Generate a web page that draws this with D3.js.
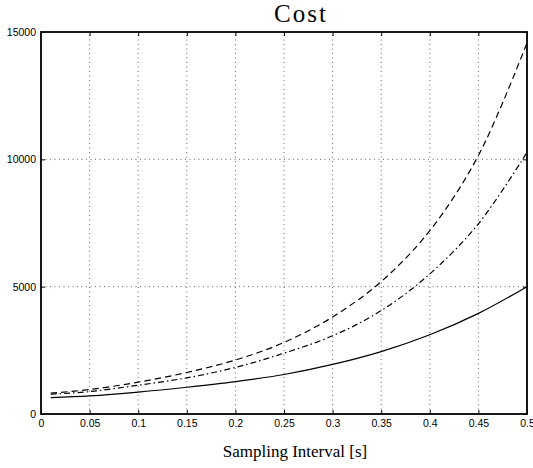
<!DOCTYPE html>
<html>
<head>
<meta charset="utf-8">
<script src="https://cdn.jsdelivr.net/npm/d3@7/dist/d3.min.js"></script>
<style>
  html, body { margin: 0; padding: 0; background: #fff; }
  svg { display: block; }
</style>
</head>
<body>
<svg id="chart" width="533" height="468"></svg>
<script>
// ---- data ----
const intervals = [0.01, 0.05, 0.1, 0.15, 0.2, 0.25, 0.3, 0.35, 0.4, 0.45, 0.5];
const costSolid   = [640, 710, 860, 1050, 1270, 1550, 1946, 2450, 3110, 3950, 5000];
const costDashDot = [775, 880, 1130, 1420, 1830, 2390, 3070, 4060, 5500, 7470, 10270];
const costDashed  = [820, 960, 1250, 1630, 2120, 2810, 3810, 5200, 7200, 10150, 14570];
const xTicks = [0, 0.05, 0.1, 0.15, 0.2, 0.25, 0.3, 0.35, 0.4, 0.45, 0.5];
const xTickLabels = ["0", "0.05", "0.1", "0.15", "0.2", "0.25", "0.3", "0.35", "0.4", "0.45", "0.5"];
const yTicks = [0, 5000, 10000, 15000];
const yTickLabels = ["0", "5000", "10000", "15000"];
const titleText = "Cost";
const xLabelText = "Sampling Interval [s]";

// ---- layout ----
const L = 41, R = 527, T = 32, B = 414;
const svg = d3.select("#chart");
const x = d3.scaleLinear().domain([0, 0.5]).range([L, R]);
const y = d3.scaleLinear().domain([0, 15000]).range([B, T]);

// grid
const grid = svg.append("g").attr("stroke", "#666").attr("stroke-width", 1)
  .attr("stroke-dasharray", "1,3.5").attr("fill", "none");
xTicks.slice(1, -1).forEach(v => {
  grid.append("line").attr("x1", x(v)).attr("x2", x(v)).attr("y1", B).attr("y2", T);
});
yTicks.slice(1, -1).forEach(v => {
  grid.append("line").attr("x1", L).attr("x2", R).attr("y1", y(v)).attr("y2", y(v));
});

// series
const line = d3.line().x(d => x(d[0])).y(d => y(d[1])).curve(d3.curveCatmullRom.alpha(0.5));
const series = [
  { vals: costSolid, dash: null },
  { vals: costDashDot, dash: "6,3,1.5,3" },
  { vals: costDashed, dash: "6.5,4" }
];
series.forEach(s => {
  svg.append("path")
    .datum(intervals.map((v, i) => [v, s.vals[i]]))
    .attr("d", line)
    .attr("fill", "none")
    .attr("stroke", "#000")
    .attr("stroke-width", 1.2)
    .attr("stroke-dasharray", s.dash);
});

// axes
const fontTick = "'Liberation Sans', Arial, Helvetica, sans-serif";
const xAxis = d3.axisBottom(x).tickValues(xTicks)
  .tickFormat((d, i) => xTickLabels[i]).tickSize(-4).tickPadding(6);
const yAxis = d3.axisLeft(y).tickValues(yTicks)
  .tickFormat((d, i) => yTickLabels[i]).tickSize(-4).tickPadding(5);
const xTop = d3.axisTop(x).tickValues(xTicks).tickFormat("").tickSize(-4);
const yRight = d3.axisRight(y).tickValues(yTicks).tickFormat("").tickSize(-4);

function styleAxis(g) {
  g.select(".domain").remove();
  g.selectAll(".tick line").attr("stroke", "#000").attr("stroke-width", 1);
  g.selectAll(".tick text").attr("fill", "#000")
    .style("font-family", fontTick).style("font-size", "10.5px");
}
svg.append("g").attr("transform", `translate(0,${B})`).call(xAxis).call(styleAxis);
svg.append("g").attr("transform", `translate(${L},0)`).call(yAxis).call(styleAxis);
svg.append("g").attr("transform", `translate(0,${T})`).call(xTop).call(styleAxis);
svg.append("g").attr("transform", `translate(${R},0)`).call(yRight).call(styleAxis);

// box
svg.append("rect").attr("x", L).attr("y", T).attr("width", R - L).attr("height", B - T)
  .attr("fill", "none").attr("stroke", "#000").attr("stroke-width", 1.8);

// title & label
svg.append("text").attr("x", 300).attr("y", 22).attr("text-anchor", "middle")
  .style("font-family", "'Liberation Serif', 'Times New Roman', serif")
  .style("font-size", "25px").attr("textLength", 52).attr("lengthAdjust", "spacing")
  .text(titleText);
svg.append("text").attr("x", 295).attr("y", 457).attr("text-anchor", "middle")
  .style("font-family", "'Liberation Serif', 'Times New Roman', serif")
  .style("font-size", "17px")
  .text(xLabelText);
</script>
</body>
</html>
